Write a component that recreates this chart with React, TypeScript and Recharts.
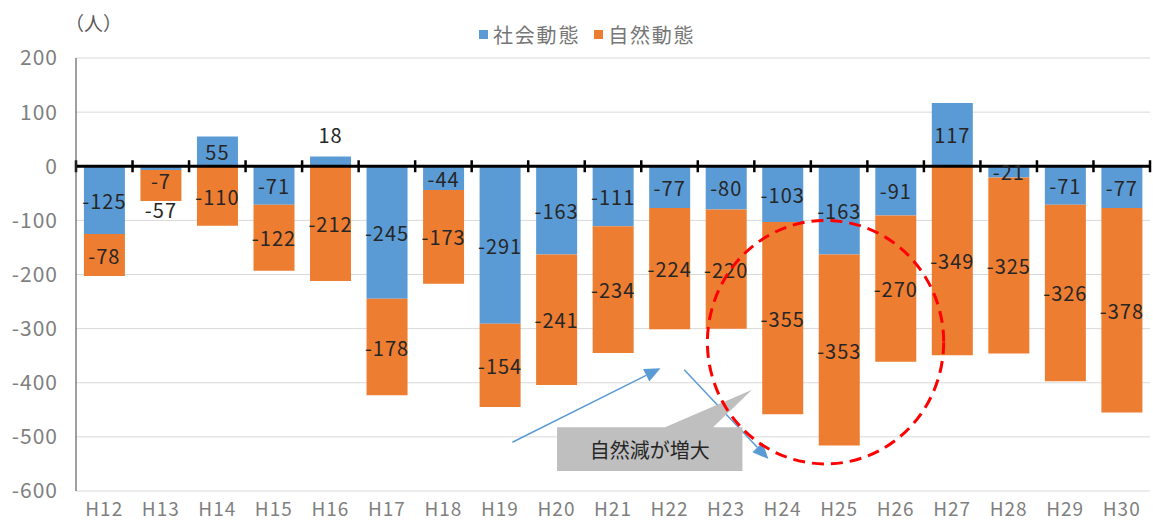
import React from 'react';
import {
  BarChart,
  Bar,
  XAxis,
  YAxis,
  CartesianGrid,
  ReferenceLine,
  LabelList,
} from 'recharts';

const years = ['H12', 'H13', 'H14', 'H15', 'H16', 'H17', 'H18', 'H19', 'H20', 'H21', 'H22', 'H23', 'H24', 'H25', 'H26', 'H27', 'H28', 'H29', 'H30'];
const socialChange = [-125, -7, 55, -71, 18, -245, -44, -291, -163, -111, -77, -80, -103, -163, -91, 117, -21, -71, -77];
const naturalChange = [-78, -57, -110, -122, -212, -178, -173, -154, -241, -234, -224, -220, -355, -353, -270, -349, -325, -326, -378];
const seriesNames = ['社会動態', '自然動態'];
const yTicks = [-600, -500, -400, -300, -200, -100, 0, 100, 200];
const unitLabel = '（人）';
const calloutText = '自然減が増大';

const COLORS = ['#5B9BD5', '#ED7D31'];
const FONT = "'Noto Sans CJK JP', 'Noto Sans', sans-serif";

const W = 1153;
const H = 524;
const PLOT = { left: 76, right: 1150, top: 58, bottom: 491 };
const Y_DOMAIN = [-600, 200];

// small manual nudges of data labels (px), like the hand-moved labels in the original
const labelShift: Record<string, { social?: number; natural?: number }> = {
  H13: { social: 12, natural: 24 },
  H16: { social: -27 },
};

const rows = years.map((year, i) => ({
  year,
  social: socialChange[i],
  natural: naturalChange[i],
}));

// map (category index, value) to page pixels, same layout as the chart
const band = (PLOT.right - PLOT.left) / years.length;
const px = (idx: number) => PLOT.left + (idx + 0.5) * band;
const py = (v: number) =>
  PLOT.top + ((Y_DOMAIN[1] - v) / (Y_DOMAIN[1] - Y_DOMAIN[0])) * (PLOT.bottom - PLOT.top);

const makeLabel = (key: 'social' | 'natural') => (props: any) => {
  const { x, y, width, height, value, index } = props;
  if (value === undefined || value === null) return null;
  const shift = labelShift[years[index]]?.[key] ?? 0;
  const cx = Number(x) + Number(width) / 2;
  const cy = Number(y) + Number(height) / 2 + shift;
  return (
    <text
      x={cx}
      y={cy}
      textAnchor="middle"
      dominantBaseline="central"
      fill="#262626"
      fontSize={20}
      letterSpacing={1}
      fontFamily={FONT}
    >
      {value}
    </text>
  );
};

const ZeroAxis = (props: any) => {
  const { x1, y1, x2 } = props;
  const n = years.length;
  const step = (x2 - x1) / n;
  return (
    <g>
      <line x1={x1} y1={y1} x2={x2} y2={y1} stroke="#000" strokeWidth={3} />
      {Array.from({ length: n + 1 }, (_, k) => (
        <line key={k} x1={x1 + k * step} x2={x1 + k * step} y1={y1 - 6} y2={y1 + 6} stroke="#000" strokeWidth={2.5} />
      ))}
    </g>
  );
};

function Arrow({ from, to }: { from: [number, number]; to: [number, number] }) {
  const x1 = px(from[0]);
  const y1 = py(from[1]);
  const x2 = px(to[0]);
  const y2 = py(to[1]);
  const ang = Math.atan2(y2 - y1, x2 - x1);
  const len = 16;
  const half = 7;
  const bx = x2 - len * Math.cos(ang);
  const by = y2 - len * Math.sin(ang);
  const nx = -Math.sin(ang);
  const ny = Math.cos(ang);
  return (
    <g>
      <line x1={x1} y1={y1} x2={bx} y2={by} stroke={COLORS[0]} strokeWidth={1.5} />
      <polygon
        points={`${x2},${y2} ${bx + nx * half},${by + ny * half} ${bx - nx * half},${by - ny * half}`}
        fill={COLORS[0]}
      />
    </g>
  );
}

function Annotations() {
  const boxL = px(8.01);
  const boxR = px(11.29);
  const boxT = py(-482);
  const boxB = py(-563);
  return (
    <svg width={W} height={H} style={{ position: 'absolute', left: 0, top: 0, pointerEvents: 'none' }}>
      <Arrow from={[7.22, -510]} to={[9.84, -373]} />
      <Arrow from={[10.26, -376]} to={[11.75, -541]} />
      <path
        d={`M${boxL},${boxT} L${px(9.92)},${boxT} L${px(11.46)},${py(-413)} L${px(10.77)},${boxT} L${boxR},${boxT} L${boxR},${boxB} L${boxL},${boxB} Z`}
        fill="#BFBFBF"
      />
      <text
        x={(boxL + boxR) / 2}
        y={(boxT + boxB) / 2}
        textAnchor="middle"
        dominantBaseline="central"
        fontSize={20}
        fontFamily={FONT}
        fill="#262626"
      >
        {calloutText}
      </text>
      <ellipse
        cx={px(12.76)}
        cy={py(-325)}
        rx={2.09 * band}
        ry={py(-325) - py(-100)}
        fill="none"
        stroke="#FF0000"
        strokeWidth={3}
        strokeDasharray="12 7"
      />
    </svg>
  );
}

export default function App() {
  return (
    <div style={{ position: 'absolute', left: 0, top: 0, width: W, height: H, background: '#fff', fontFamily: FONT }}>
      <BarChart
        width={W}
        height={H}
        data={rows}
        stackOffset="sign"
        barCategoryGap="14%"
        margin={{ top: PLOT.top, right: W - PLOT.right, left: 0, bottom: 0 }}
      >
        <CartesianGrid vertical={false} stroke="#d9d9d9" />
        <XAxis
          dataKey="year"
          interval={0}
          height={H - PLOT.bottom}
          axisLine={false}
          tickLine={false}
          tickMargin={6}
          tick={{ fill: '#7f7f7f', fontSize: 19, fontFamily: FONT, letterSpacing: 1 }}
        />
        <YAxis
          type="number"
          domain={Y_DOMAIN}
          ticks={yTicks}
          interval={0}
          width={PLOT.left}
          axisLine={{ stroke: '#404040' }}
          tickLine={false}
          tickMargin={12}
          tick={{ fill: '#7f7f7f', fontSize: 21, fontFamily: FONT, letterSpacing: 1 }}
        />
        <Bar dataKey="social" name={seriesNames[0]} stackId="s" fill={COLORS[0]} isAnimationActive={false}>
          <LabelList dataKey="social" content={makeLabel('social')} />
        </Bar>
        <Bar dataKey="natural" name={seriesNames[1]} stackId="s" fill={COLORS[1]} isAnimationActive={false}>
          <LabelList dataKey="natural" content={makeLabel('natural')} />
        </Bar>
        <ReferenceLine y={0} shape={ZeroAxis} />
      </BarChart>

      <div style={{ position: 'absolute', left: 65, top: 9, fontSize: 19, color: '#595959' }}>{unitLabel}</div>

      <div style={{ position: 'absolute', left: 479, top: 20, display: 'flex', alignItems: 'center', gap: 14 }}>
        {seriesNames.map((name, i) => (
          <div key={name} style={{ display: 'flex', alignItems: 'center' }}>
            <span style={{ width: 9, height: 9, background: COLORS[i], display: 'inline-block', marginRight: 5 }} />
            <span style={{ fontSize: 20, color: '#767676', letterSpacing: 1.8 }}>{name}</span>
          </div>
        ))}
      </div>

      <Annotations />
    </div>
  );
}
